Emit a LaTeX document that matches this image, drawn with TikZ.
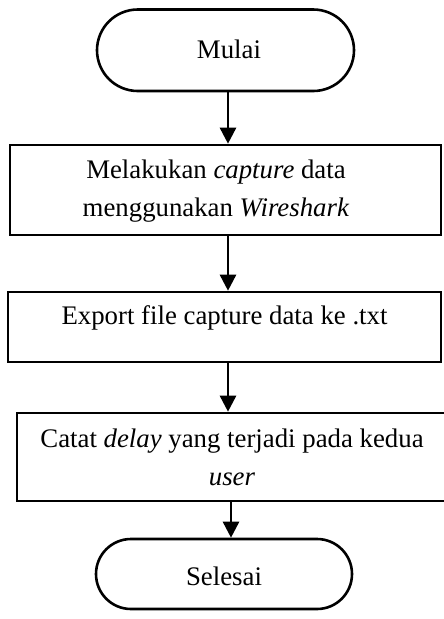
\documentclass[tikz,border=0pt]{standalone}
\usepackage{fontspec}
\setmainfont{Liberation Serif}
\usetikzlibrary{arrows.meta,shapes.misc}
\begin{document}
\begin{tikzpicture}[x=1pt,y=-1pt,
  every node/.style={font=\fontsize{26.8}{38}\selectfont, inner sep=0pt},
  boxshape/.style={draw, line width=2.6pt, rectangle},
  termshape/.style={draw, line width=2.6pt, rounded rectangle},
  arr/.style={line width=2.6pt, -{Triangle[length=16pt,width=16pt]}}]
\useasboundingbox (0,0) rectangle (444,619);
% terminals
\node[termshape, minimum width=257pt, minimum height=81.5pt] (m) at (225.5,50.25) {};
\node at (229,49) {Mulai};
% process boxes
\node[boxshape, minimum width=431pt, minimum height=90pt] (b2) at (225.5,190) {};
\node[align=center] (t2) at (216,191) {Melakukan \textit{capture} data\\menggunakan \textit{Wireshark}};
\node[boxshape, minimum width=433pt, minimum height=70pt] (b3) at (224.5,327) {};
\node (t3) at (224.5,318) {Export file capture data ke .txt};
\node[boxshape, minimum width=430pt, minimum height=88pt] (b4) at (232,457) {};
\node[align=center] (t4) at (232,457) {Catat \textit{delay} yang terjadi pada kedua\\\textit{user}};
\node[termshape, minimum width=256pt, minimum height=70pt] (s) at (224,574) {};
\node at (224,576) {Selesai};
% connector columns
\coordinate (c1) at (228,0);
\coordinate (c2) at (231,0);
\draw[arr] (m.south -| c1) -- (b2.north -| c1);
\draw[arr] (b2.south -| c1) -- (b3.north -| c1);
\draw[arr] (b3.south -| c1) -- (b4.north -| c1);
\draw[arr] (b4.south -| c2) -- (s.north -| c2);
\end{tikzpicture}
\end{document}
